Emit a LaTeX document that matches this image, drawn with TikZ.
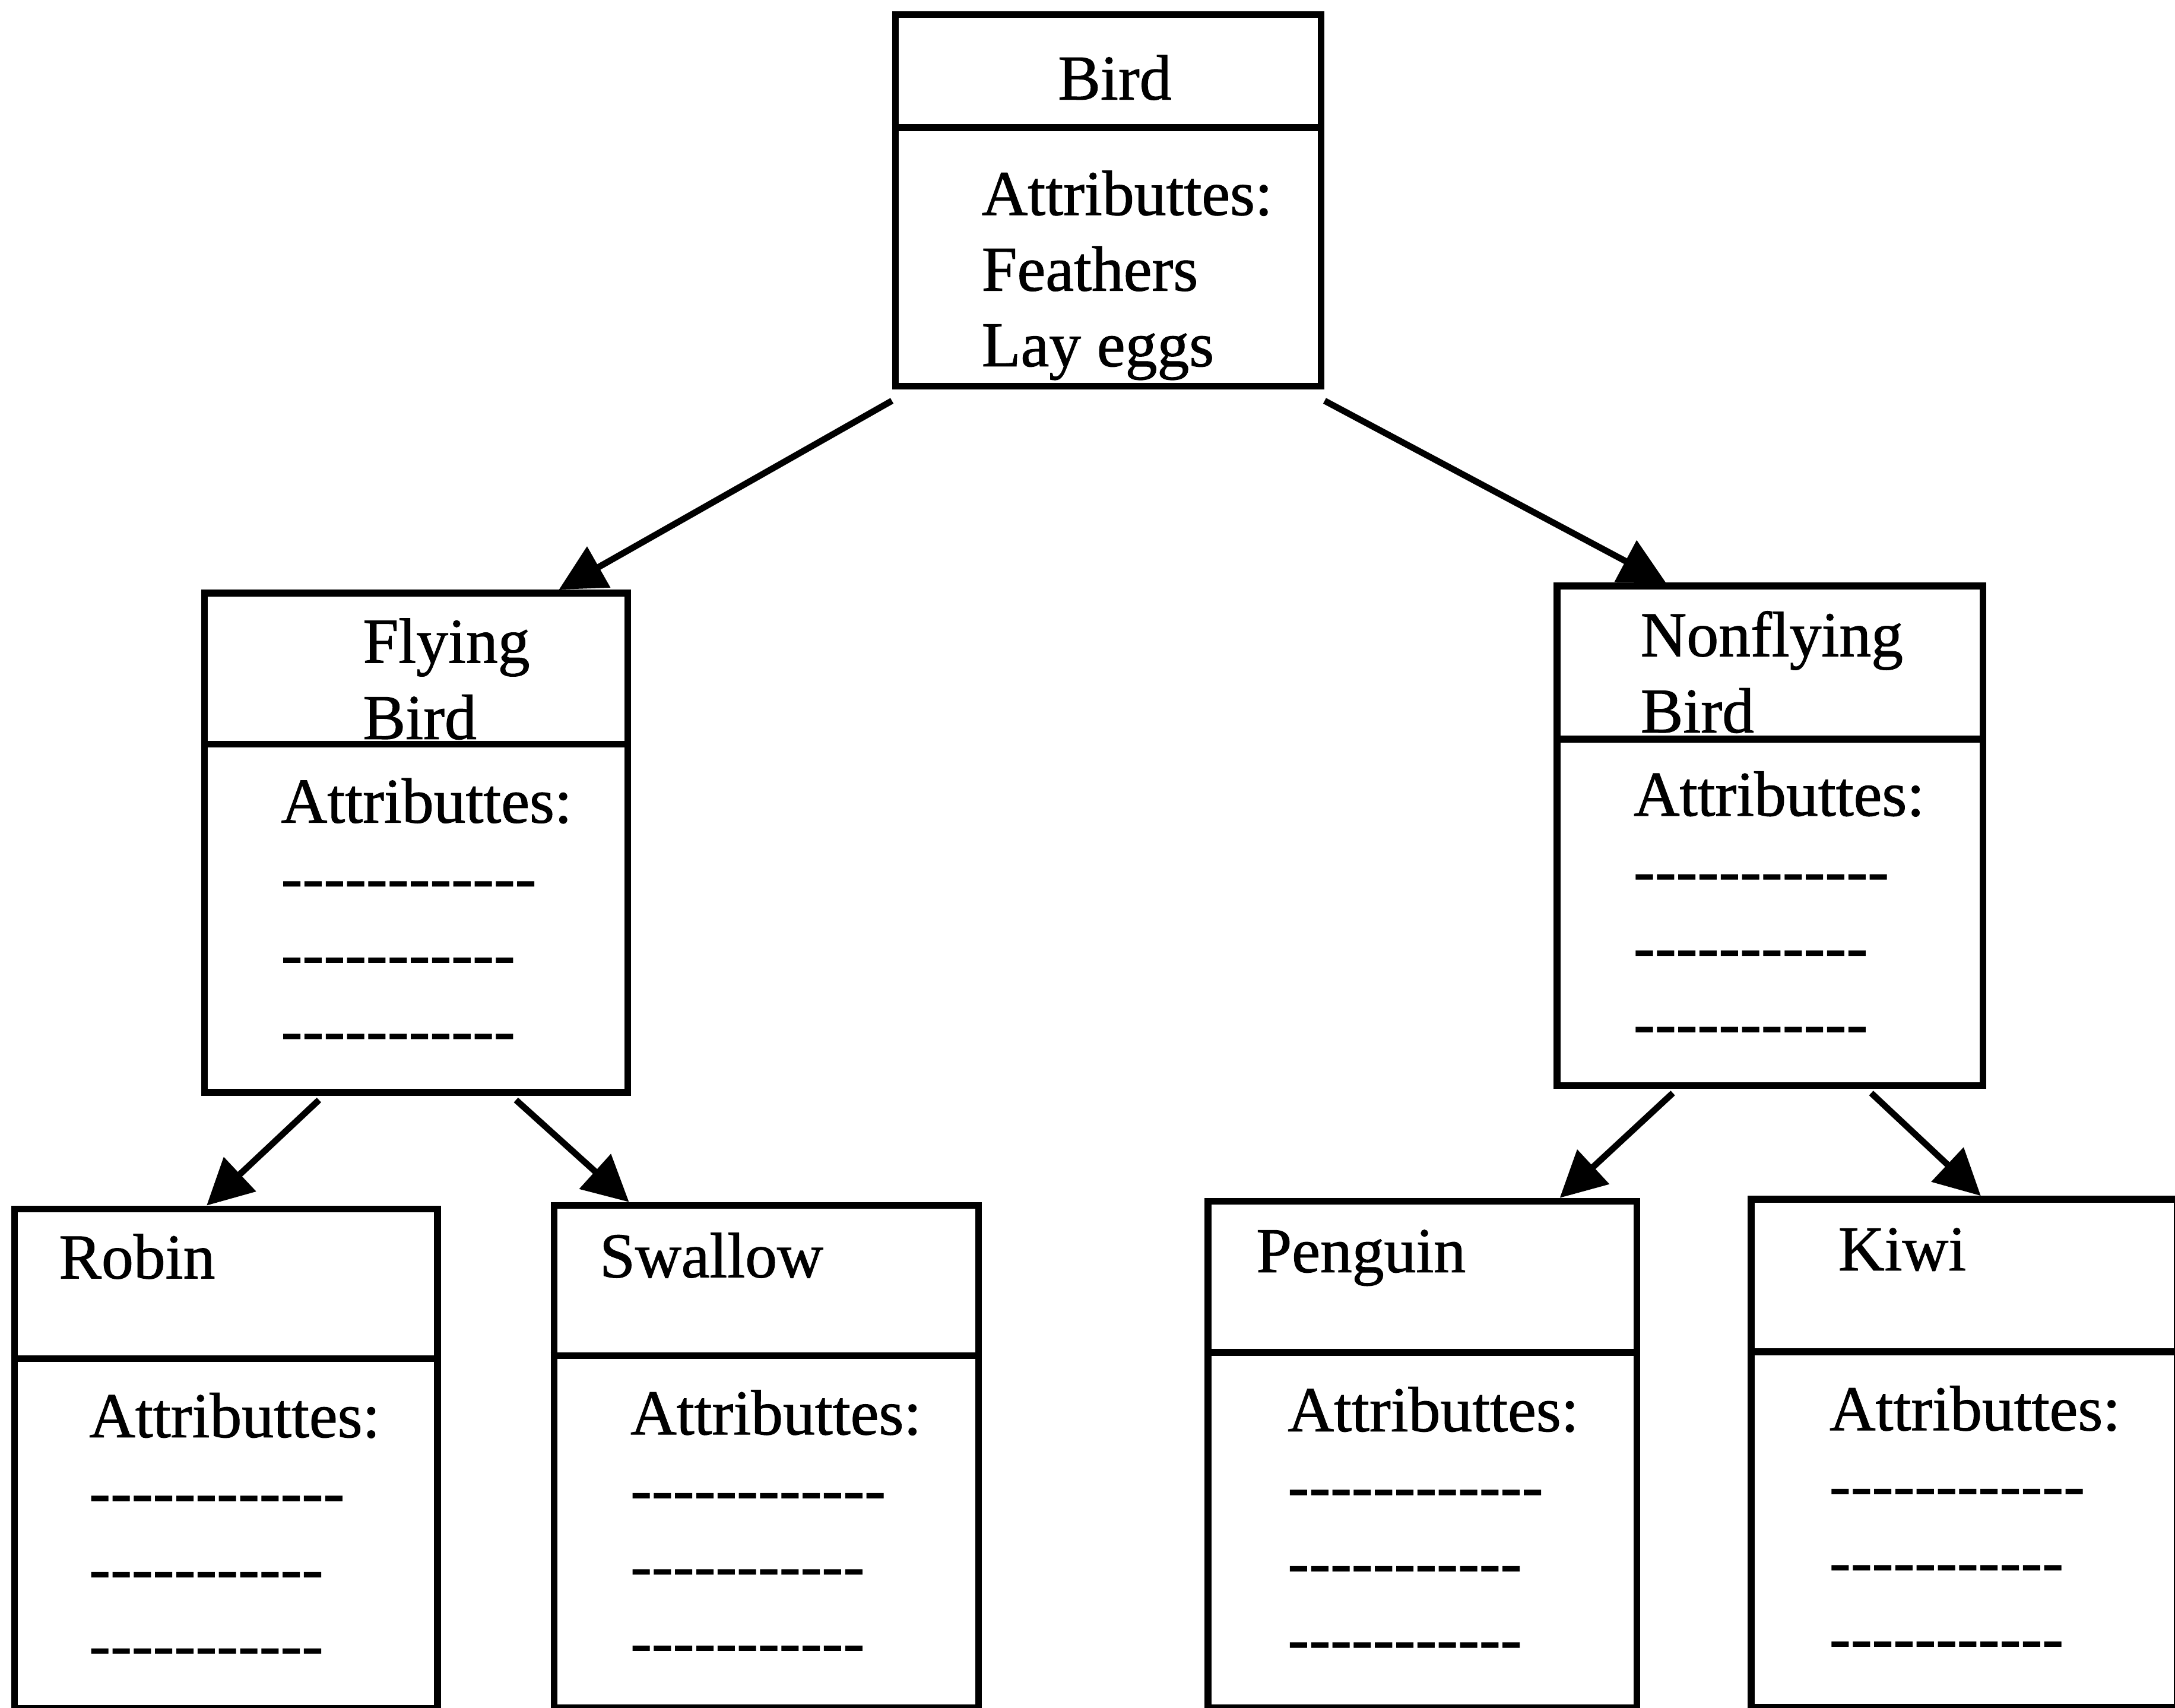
\documentclass[tikz,border=0pt]{standalone}
\usepackage{fontspec}
\setmainfont{Liberation Serif}[FakeBold=1]
\usetikzlibrary{arrows.meta}
% a run of plain hyphens, kept apart so they never join into dashes
\newcommand{\hyphens}[1]{\foreach \k in {1,...,#1}{-\kern0pt}}

\begin{document}
\begin{tikzpicture}[
    font=\fontsize{13.1}{15.6}\selectfont,
    classbox/.style={draw, line width=1.4pt, anchor=north west, inner sep=0pt,
      minimum width=3.06cm, minimum height=3.6cm},
    divider/.style={line width=1.4pt},
    cname/.style={anchor=base west, inner sep=0pt},
    attr/.style={anchor=base west, inner sep=0pt},
    isa/.style={-{Triangle[length=3.3mm, width=3.3mm]}, line width=1.3pt}
  ]
    \path[fill=white, use as bounding box] (0,0) rectangle (15.68,-12.31);

    % class boxes
    \node[classbox, minimum width=3.07cm, minimum height=2.68cm] (bird) at (6.43,-0.08) {};
    \node[classbox, minimum width=3.05cm] (flying) at (1.45,-4.25) {};
    \node[classbox, minimum width=3.07cm] (nonflying) at (11.20,-4.20) {};
    \node[classbox, minimum width=3.05cm, minimum height=3.60cm] (robin) at (0.08,-8.69) {};
    \node[classbox, minimum width=3.06cm, minimum height=3.62cm] (swallow) at (3.97,-8.665) {};
    \node[classbox, minimum width=3.09cm, minimum height=3.65cm] (penguin) at (8.685,-8.635) {};
    \node[classbox, minimum width=3.07cm, minimum height=3.66cm] (kiwi) at (12.60,-8.62) {};

    \draw[divider] ([yshift=-0.84cm]bird.north west) -- ([yshift=-0.84cm]bird.north east);
    \draw[divider] ([yshift=-1.115cm]flying.north west) -- ([yshift=-1.115cm]flying.north east);
    \draw[divider] ([yshift=-1.127cm]nonflying.north west) -- ([yshift=-1.127cm]nonflying.north east);
    \draw[divider] ([yshift=-1.104cm]robin.north west) -- ([yshift=-1.104cm]robin.north east);
    \draw[divider] ([yshift=-1.108cm]swallow.north west) -- ([yshift=-1.108cm]swallow.north east);
    \draw[divider] ([yshift=-1.113cm]penguin.north west) -- ([yshift=-1.113cm]penguin.north east);
    \draw[divider] ([yshift=-1.124cm]kiwi.north west) -- ([yshift=-1.124cm]kiwi.north east);

    % names
    \node[cname] (birdname) at (7.62,-0.717) {Bird};
    \node[cname] (flyingname) at (2.61,-4.777) {Flying};
    \node[cname] (flyingname2) at ([yshift=-0.55cm]flyingname.base west) {Bird};
    \node[cname] (nonflyingname) at (11.82,-4.73) {Nonflying};
    \node[cname] (nonflyingname2) at ([yshift=-0.55cm]nonflyingname.base west) {Bird};
    \node[cname] (robinname) at (0.418,-9.215) {Robin};
    \node[cname] (swallowname) at (4.316,-9.207) {Swallow};
    \node[cname] (penguinname) at (9.05,-9.17) {Penguin};
    \node[cname] (kiwiname) at (13.246,-9.157) {Kiwi};

    % attributes
    \node[attr] (birdA) at (7.07,-1.55) {Attributtes:};
    \node[attr] (birdB) at ([yshift=-0.545cm]birdA.base west) {Feathers};
    \node[attr] (birdC) at ([yshift=-0.545cm]birdB.base west) {Lay eggs};

    \foreach \cls/\x/\y in {flying/2.02/-5.93, nonflying/11.77/-5.88, robin/0.636/-10.36,
        swallow/4.538/-10.34, penguin/9.277/-10.317, kiwi/13.182/-10.31} {
      \node[attr] (\cls A) at (\x,\y) {Attributtes:};
      \node[attr] (\cls B) at ([yshift=-0.55cm]\cls A.base west) {\hyphens{12}};
      \node[attr] (\cls C) at ([yshift=-0.55cm]\cls B.base west) {\hyphens{11}};
      \node[attr] (\cls D) at ([yshift=-0.55cm]\cls C.base west) {\hyphens{11}};
    }

    % inheritance
    \draw[isa] ([yshift=-0.08cm]bird.south west) -- ([xshift=1.03cm]flying.north);
    \draw[isa] ([yshift=-0.08cm]bird.south east) -- ([xshift=-0.75cm]nonflying.north);
    \draw[isa] ([xshift=-0.70cm,yshift=-0.03cm]flying.south) -- ([xshift=-0.14cm]robin.north);
    \draw[isa] ([xshift=0.72cm,yshift=-0.03cm]flying.south) -- ([xshift=-0.99cm]swallow.north);
    \draw[isa] ([xshift=-0.70cm,yshift=-0.03cm]nonflying.south) -- ([xshift=0.99cm]penguin.north);
    \draw[isa] ([xshift=0.73cm,yshift=-0.03cm]nonflying.south) -- ([xshift=0.12cm]kiwi.north);
  \end{tikzpicture}
\end{document}
